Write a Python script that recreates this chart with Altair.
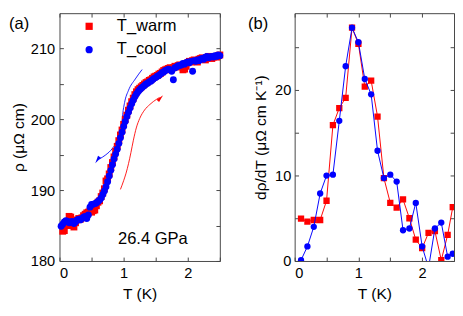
import altair as alt
import pandas as pd

FONT = "Liberation Sans"
RED = "#ff0000"
BLUE = "#0000ff"
FRAME = "#444444"
SERIES = ["T_warm", "T_cool"]

# ---------- panel (a): resistivity ----------
t_cool = [0.025, 0.05, 0.075, 0.1, 0.125, 0.15, 0.175, 0.2, 0.225, 0.25,
          0.275, 0.3, 0.325, 0.35, 0.375, 0.4, 0.425, 0.45, 0.475, 0.5,
          0.525, 0.55, 0.575, 0.6, 0.625, 0.65, 0.675, 0.7, 0.725, 0.75,
          0.775, 0.8, 0.825, 0.85, 0.875, 0.9, 0.925, 0.95, 0.975, 1.0,
          1.025, 1.05, 1.075, 1.1, 1.125, 1.15, 1.175, 1.2, 1.225, 1.25,
          1.275, 1.3, 1.325, 1.35, 1.375, 1.4, 1.425, 1.45, 1.475, 1.5,
          1.525, 1.55, 1.575, 1.6, 1.625, 1.65, 1.675, 1.7, 1.725, 1.75,
          1.775, 1.8, 1.825, 1.85, 1.875, 1.9, 1.925, 1.95, 1.975, 2.0,
          2.025, 2.05, 2.075, 2.1, 2.125, 2.15, 2.175, 2.2, 2.225, 2.25,
          2.275, 2.3, 2.325, 2.35, 2.375, 2.4, 2.425, 2.45, 2.475, 2.5]
rho_cool = [184.9, 185.2, 185.5, 185.7, 185.6, 185.4, 185.5, 185.6, 185.3, 185.5,
            185.8, 185.9, 185.8, 186.0, 186.2, 186.3, 186.0, 186.5, 187.6, 188.0,
            188.0, 188.1, 188.2, 188.4, 188.6, 188.9, 189.4, 189.9, 190.5, 191.2,
            192.0, 192.8, 193.6, 194.4, 195.1, 195.8, 196.6, 197.4, 198.2, 199.0,
            199.7, 200.4, 201.0, 201.6, 202.2, 202.7, 203.2, 203.6, 203.9, 204.2,
            204.4, 204.6, 204.8, 205.0, 205.1, 205.3, 205.4, 205.6, 205.8, 205.9,
            206.1, 206.2, 206.4, 206.6, 206.7, 206.9, 207.0, 207.1, 207.0, 206.8,
            205.6, 207.3, 207.4, 207.6, 207.6, 207.7, 207.9, 207.8, 208.0, 208.1,
            208.0, 208.2, 206.8, 208.3, 208.2, 208.4, 208.3, 208.5, 208.6, 208.5,
            208.8, 208.9, 208.7, 208.8, 208.9, 208.8, 209.0, 208.9, 209.1, 209.0]
t_warm = [0.05, 0.075, 0.1, 0.125, 0.15, 0.175, 0.2, 0.225, 0.25,
          0.275, 0.3, 0.325, 0.35, 0.375, 0.4, 0.425, 0.45, 0.475, 0.5,
          0.525, 0.55, 0.575, 0.6, 0.625, 0.65, 0.675, 0.7, 0.725, 0.75,
          0.775, 0.8, 0.825, 0.85, 0.875, 0.9, 0.925, 0.95, 0.975, 1.0,
          1.025, 1.05, 1.075, 1.1, 1.125, 1.15, 1.175, 1.2, 1.225, 1.25,
          1.275, 1.3, 1.325, 1.35, 1.375, 1.4, 1.425, 1.45, 1.475, 1.5,
          1.525, 1.55, 1.575, 1.6, 1.625, 1.65, 1.675, 1.7, 1.725, 1.75,
          1.775, 1.8, 1.825, 1.85, 1.875, 1.9, 1.925, 1.95, 1.975, 2.0,
          2.025, 2.05, 2.075, 2.1, 2.125, 2.15, 2.175, 2.2, 2.225, 2.25,
          2.275, 2.3, 2.325, 2.35, 2.375, 2.4, 2.425, 2.45, 2.475, 2.5]
rho_warm = [184.2, 184.3, 185.0, 185.6, 186.3, 186.2, 185.0, 184.8, 185.4,
            185.8, 186.0, 185.9, 186.1, 186.4, 186.6, 186.8, 186.9, 187.0, 186.9,
            187.1, 187.2, 187.8, 188.3, 188.5, 189.1, 189.6, 190.2, 191.3, 191.6,
            192.3, 193.2, 193.9, 194.7, 195.5, 196.2, 197.0, 197.8, 198.5, 199.3,
            200.0, 200.6, 201.3, 201.9, 202.5, 203.0, 203.5, 203.9, 204.2, 204.4,
            204.6, 204.8, 205.0, 205.2, 205.3, 205.5, 205.6, 205.8, 206.0, 206.1,
            206.2, 206.4, 206.5, 206.7, 206.9, 207.0, 207.1, 207.2, 207.3, 207.2,
            207.3, 207.5, 207.4, 207.6, 207.7, 207.5, 207.0, 207.1, 207.5, 208.0,
            208.2, 208.1, 208.3, 208.4, 208.2, 208.1, 208.5, 208.6, 208.7, 208.5,
            208.4, 208.7, 208.9, 208.8, 208.6, 208.8, 208.9, 208.8, 209.0, 209.1]

# guide arrows (annotation paths in data units)
arrow_cool_t = [1.288, 1.182, 1.076, 1.015, 0.985, 0.970, 0.924, 0.833, 0.712, 0.62]
arrow_cool_rho = [207.04, 205.71, 204.11, 202.39, 200.65, 199.06, 197.46, 196.0, 194.93, 194.4]
arrow_warm_t = [0.95, 1.0, 1.038, 1.076, 1.114, 1.152, 1.197, 1.25, 1.326, 1.409, 1.515, 1.56]
arrow_warm_rho = [190.11, 191.34, 192.41, 193.74, 195.33, 197.06, 198.79, 200.12, 201.32, 202.11, 202.85, 203.1]
head_cool = (0.591, 194.27, 213)
head_warm = (1.574, 203.02, 43)

# ---------- panel (b): derivative ----------
t_d = [0.1, 0.2, 0.3, 0.4, 0.5, 0.6, 0.7, 0.8, 0.9, 1.0, 1.1, 1.2, 1.3,
       1.4, 1.5, 1.6, 1.7, 1.8, 1.9, 2.0, 2.1, 2.2, 2.3, 2.4, 2.48]
d_cool = [0.1, 1.7, 4.0, 7.9, 10.0, 10.1, 16.4, 22.8, 27.3, 25.6, 21.3, 19.5, 12.9,
          9.7, 10.1, 9.3, 3.6, 3.8, 6.8, 1.7, -0.8, 3.8, 4.5, 0.5, 0.85]
d_warm = [4.95, 4.6, 4.8, 4.8, 7.05, 15.9, 17.9, 19.1, 27.3, 25.4, 20.4, 21.1, 16.9,
          9.7, 6.8, 6.25, 7.2, 5.0, 2.5, 1.5, 3.3, 3.5, 0.1, 3.05, 6.3]

x_ticks = [0, 0.5, 1, 1.5, 2, 2.5]
ya_ticks = [180, 185, 190, 195, 200, 205, 210]
yb_ticks = [0, 5, 10, 15, 20, 25]


def axis(orient, values, every, title=None, labels=True, label_pad=4, title_pad=4):
    kw = dict(orient=orient, values=values, tickSize=4, offset=-4, domain=False,
              grid=False, tickColor=FRAME, tickWidth=1, labels=labels, title=title)
    if labels:
        kw.update(labelExpr=f"datum.value % {every} == 0 ? format(datum.value, 'd') : ''",
                  labelFont=FONT, labelFontSize=15, labelColor="black",
                  labelPadding=label_pad, labelOverlap=False)
    if title is not None:
        kw.update(titleFont=FONT, titleFontSize=16, titleFontWeight="normal",
                  titleColor="black", titlePadding=title_pad)
    return alt.Axis(**kw)


xs_a = alt.Scale(domain=[0, 2.5], nice=False, zero=False)
ys_a = alt.Scale(domain=[180, 215], nice=False, zero=False)
xs_b = alt.Scale(domain=[0, 2.5], nice=False, zero=False)
ys_b = alt.Scale(domain=[0, 29], nice=False, zero=False)

df_a = pd.DataFrame({
    "T": t_warm + t_cool,
    "rho": rho_warm + rho_cool,
    "series": ["T_warm"] * len(t_warm) + ["T_cool"] * len(t_cool),
})

legend = alt.Legend(orient="none", legendX=22, legendY=5, title=None,
                    labelFont=FONT, labelFontSize=17, labelColor="black",
                    symbolSize=55, symbolStrokeWidth=0, labelOffset=20,
                    rowPadding=6, padding=0)

pts_a = alt.Chart(df_a).mark_point(filled=True, size=50, opacity=1).encode(
    x=alt.X("T:Q", scale=xs_a, axis=axis("bottom", x_ticks, 1, title="T (K)", label_pad=5, title_pad=6)),
    y=alt.Y("rho:Q", scale=ys_a, axis=axis("left", ya_ticks, 10, title="ρ (μΩ cm)", label_pad=5, title_pad=4)),
    color=alt.Color("series:N", scale=alt.Scale(domain=SERIES, range=[RED, BLUE]), legend=legend),
    shape=alt.Shape("series:N", scale=alt.Scale(domain=SERIES, range=["square", "circle"]), legend=legend),
    order=alt.Order("ord:Q"),
).transform_calculate(ord="datum.series == 'T_warm' ? 0 : 1")

df_arr_c = pd.DataFrame({"T": arrow_cool_t, "rho": arrow_cool_rho, "i": list(range(len(arrow_cool_t)))})
df_arr_w = pd.DataFrame({"T": arrow_warm_t, "rho": arrow_warm_rho, "i": list(range(len(arrow_warm_t)))})
arr_c = alt.Chart(df_arr_c).mark_line(color=BLUE, strokeWidth=0.9, interpolate="monotone").encode(
    x=alt.X("T:Q", scale=xs_a, axis=None), y=alt.Y("rho:Q", scale=ys_a, axis=None), order="i:Q")
arr_w = alt.Chart(df_arr_w).mark_line(color=RED, strokeWidth=0.9, interpolate="monotone").encode(
    x=alt.X("T:Q", scale=xs_a, axis=None), y=alt.Y("rho:Q", scale=ys_a, axis=None), order="i:Q")

HEAD = "M0,-1L0.45,1L-0.45,1Z"


def head(h, col):
    df = pd.DataFrame({"T": [h[0]], "rho": [h[1]], "ang": [h[2]]})
    return alt.Chart(df).mark_point(filled=True, size=64, opacity=1, shape=HEAD, color=col).encode(
        x=alt.X("T:Q", scale=xs_a, axis=None), y=alt.Y("rho:Q", scale=ys_a, axis=None),
        angle=alt.Angle("ang:Q", scale=None))


head_c = head(head_cool, BLUE)
head_w = head(head_warm, RED)

df_txt = pd.DataFrame({"T": [1.455], "rho": [183.1], "txt": ["26.4 GPa"]})
txt = alt.Chart(df_txt).mark_text(font=FONT, fontSize=17, color="black").encode(
    x=alt.X("T:Q", scale=xs_a, axis=axis("top", x_ticks, 1, labels=False)),
    y=alt.Y("rho:Q", scale=ys_a, axis=axis("right", ya_ticks, 10, labels=False)),
    text="txt:N")

lab_a = alt.Chart(pd.DataFrame({"t": ["(a)"]})).mark_text(
    font=FONT, fontSize=17, color="black", align="left", baseline="middle").encode(
    x=alt.value(-52), y=alt.value(11), text="t:N")

left = alt.layer(arr_c, arr_w, head_c, head_w, pts_a, txt, lab_a).resolve_axis(
    x="independent", y="independent").properties(width=165, height=255)

# panel (b)
df_b = pd.DataFrame({
    "T": t_d + t_d,
    "d": d_warm + d_cool,
    "series": ["T_warm"] * len(t_d) + ["T_cool"] * len(t_d),
})
warm_b = alt.Chart(df_b).transform_filter("datum.series == 'T_warm'")
cool_b = alt.Chart(df_b).transform_filter("datum.series == 'T_cool'")

line_w = warm_b.mark_line(color=RED, strokeWidth=1, clip=True).encode(
    x=alt.X("T:Q", scale=xs_b, axis=axis("bottom", x_ticks, 1, title="T (K)", label_pad=5, title_pad=6)),
    y=alt.Y("d:Q", scale=ys_b, axis=axis("left", yb_ticks, 10, title="dρ/dT (μΩ cm K⁻¹)", label_pad=4, title_pad=6)))
pts_w = warm_b.mark_point(filled=True, shape="square", size=42, color=RED, opacity=1, clip=True).encode(
    x=alt.X("T:Q", scale=xs_b, axis=None), y=alt.Y("d:Q", scale=ys_b, axis=None))
line_c = cool_b.mark_line(color=BLUE, strokeWidth=1, clip=True).encode(
    x=alt.X("T:Q", scale=xs_b, axis=axis("top", x_ticks, 1, labels=False)),
    y=alt.Y("d:Q", scale=ys_b, axis=axis("right", yb_ticks, 10, labels=False)))
pts_c = cool_b.mark_point(filled=True, shape="circle", size=42, color=BLUE, opacity=1, clip=True).encode(
    x=alt.X("T:Q", scale=xs_b, axis=None), y=alt.Y("d:Q", scale=ys_b, axis=None))

lab_b = alt.Chart(pd.DataFrame({"t": ["(b)"]})).mark_text(
    font=FONT, fontSize=17, color="black", align="left", baseline="middle").encode(
    x=alt.value(-48), y=alt.value(11), text="t:N")

right = alt.layer(line_w, pts_w, line_c, pts_c, lab_b).resolve_axis(
    x="independent", y="independent").properties(width=164, height=255)

chart = alt.hconcat(left, right, spacing=23).properties(padding=0).configure_view(
    stroke=FRAME, strokeWidth=1)

chart.save("out.html", embed_options={"renderer": "svg", "actions": False})
